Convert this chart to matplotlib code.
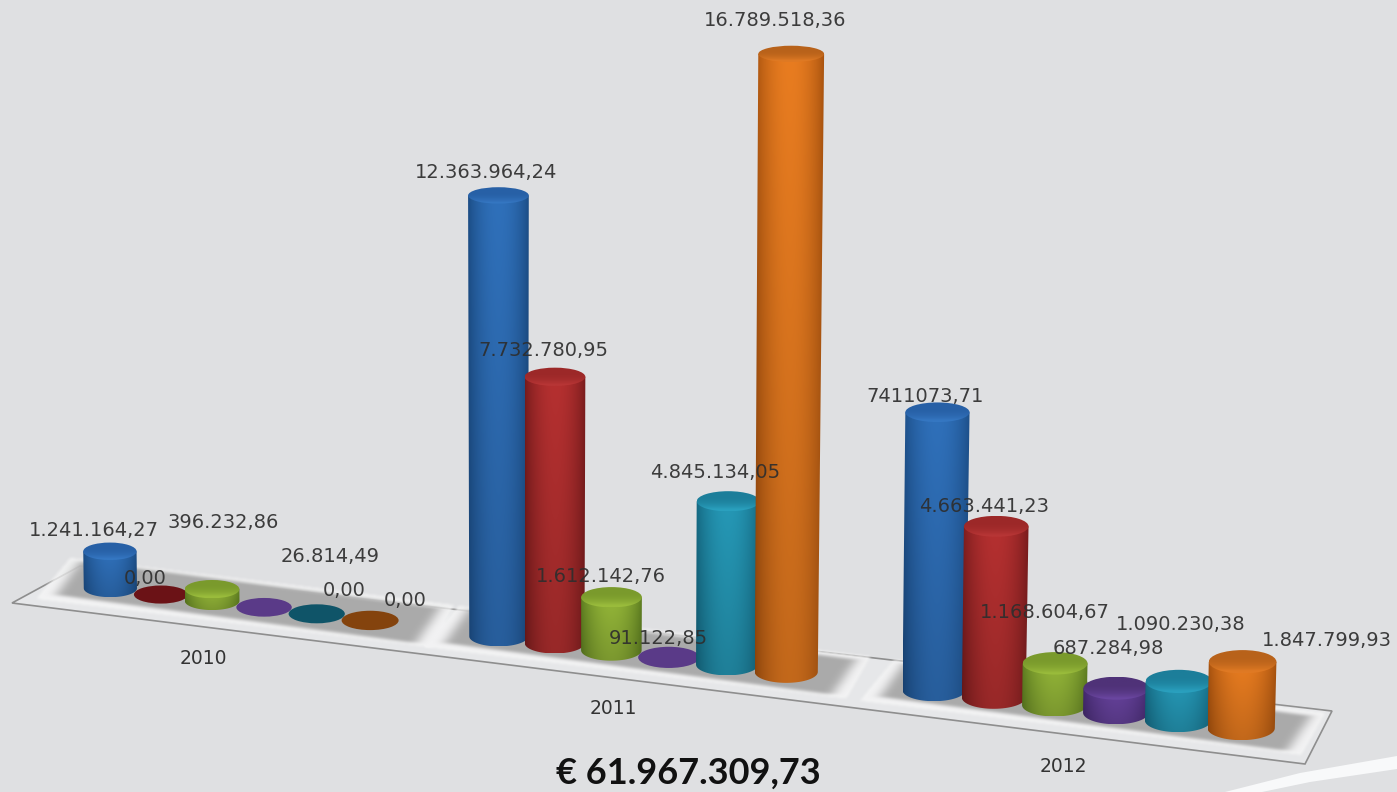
import numpy as np
import matplotlib
matplotlib.use('Agg')
import matplotlib.pyplot as plt
from matplotlib.path import Path
from matplotlib.patches import PathPatch, Ellipse, Polygon
from matplotlib.colors import to_rgb

years = ['2010', '2011', '2012']
values_2010 = [1241164.27, 0.00, 396232.86, 26814.49, 0.00, 0.00]
values_2011 = [12363964.24, 7732780.95, 1612142.76, 91122.85, 4845134.05, 16789518.36]
values_2012 = [7411073.71, 4663441.23, 1168604.67, 687284.98, 1090230.38, 1847799.93]
labels_2010 = ['1.241.164,27', '0,00', '396.232,86', '26.814,49', '0,00', '0,00']
labels_2011 = ['12.363.964,24', '7.732.780,95', '1.612.142,76', '91.122,85', '4.845.134,05', '16.789.518,36']
labels_2012 = ['7411073,71', '4.663.441,23', '1.168.604,67', '687.284,98', '1.090.230,38', '1.847.799,93']
total_label = '€ 61.967.309,73'

# layout, in picture pixels
label_xy = [
    [(94, 531), (145, 578), (223, 522), (330, 557), (344, 590), (405, 600)],
    [(486, 172), (543, 350), (601, 577), (658, 639), (715, 472), (775, 21)],
    [(925, 397), (984, 507), (1045, 613), (1108, 648), (1181, 624), (1327, 641)],
]
year_xy = [(203, 659), (613, 709), (1063, 766)]
group_spread = [1.0, 1.0, 0.965]

# edge, middle, cap, rim, flat
colors = [
    ('#1B4C84', '#2F70BA', '#2760A6', '#3577C2', '#2A62A8'),
    ('#761B1C', '#B53030', '#9C2828', '#B83636', '#6B1216'),
    ('#5C7C20', '#93B538', '#7A9A2C', '#9ABC3C', '#7F9F2E'),
    ('#42286C', '#66429C', '#4F3278', '#6A46A0', '#5A3A88'),
    ('#14667F', '#2598B6', '#1C7E9A', '#2AA0BE', '#0F5468'),
    ('#A4500E', '#E87C20', '#B8621A', '#E07A24', '#84430D'),
]

BG = '#DFE0E2'
R = 1.107
DU = 0.136


def axis_x(u):
    return 238 + 402 * (R ** u - 1) / (R - 1)


def floor_y(x):
    return 588 + 0.1237 * (x - 108)


def bar_height(v, g):
    m = v / 1e6
    return 29.5 * (1 + 0.1 * g) * m * (1 + 0.008 * m)


def squash(y):
    return 0.24 + 0.00016 * y


def blur(a, nx, ny):
    kx = np.ones(nx) / nx
    ky = np.ones(ny) / ny
    for _ in range(3):
        a = np.apply_along_axis(lambda r: np.convolve(r, ky, mode='same'), 0, a)
        a = np.apply_along_axis(lambda r: np.convolve(r, kx, mode='same'), 1, a)
    return a


fig = plt.figure(figsize=(13.97, 7.92), dpi=100, facecolor=BG)
ax = fig.add_axes([0, 0, 1, 1])
ax.set_xlim(0, 1397)
ax.set_ylim(792, 0)
ax.axis('off')
ax.autoscale(False)

# white streak in the corner
ax.add_patch(Polygon([(1225, 792), (1300, 773), (1397, 756), (1397, 769), (1310, 782), (1262, 792)],
                     fc='#F8F9FA', ec='none', zorder=1))

# floor
ax.add_patch(Polygon([(12, 603), (1305, 764), (1332, 711), (80, 566)], closed=True,
                     fc='#E6E7E9', ec='#8E8E8E', lw=1.2, zorder=1))

# shadow bands under each group
gx, gy = np.meshgrid(np.arange(1397) + 0.5, np.arange(792) + 0.5)
pts = np.column_stack([gx.ravel(), gy.ravel()])
halo = np.zeros(gx.shape)
shade = np.zeros(gx.shape)
for g in range(3):
    x0 = axis_x(g - 2.5 * DU * group_spread[g]) - 60
    x1 = axis_x(g + 2.5 * DU * group_spread[g]) + 62
    big = [(x0 + 20, floor_y(x0) - 23), (x1 + 22, floor_y(x1) - 23),
           (x1 - 2, floor_y(x1) + 19), (x0 - 14, floor_y(x0) + 18)]
    small = [(x0 + 30, floor_y(x0) - 20), (x1 + 8, floor_y(x1) - 20),
             (x1 - 16, floor_y(x1) + 15), (x0 + 6, floor_y(x0) + 14)]
    halo += Path(big).contains_points(pts).reshape(gx.shape)
    shade += Path(small).contains_points(pts).reshape(gx.shape)
halo = blur(halo, 3, 3)
shade = blur(shade, 11, 3)
rgba = np.zeros(gx.shape + (4,))
rgba[..., :3] = 0.97
rgba[..., 3] = np.clip(halo * 1.1, 0, 1) * 0.75
ax.imshow(rgba, extent=(0, 1397, 792, 0), aspect='auto', zorder=2, interpolation='bilinear')
rgba = np.zeros(gx.shape + (4,))
rgba[..., :3] = 0.67
rgba[..., 3] = np.clip(shade, 0, 1)
ax.imshow(rgba, extent=(0, 1397, 792, 0), aspect='auto', zorder=2.1, interpolation='bilinear')

# cylinders, left to right
order = 3
for g, vals in enumerate([values_2010, values_2011, values_2012]):
    for s, v in enumerate(vals):
        u = g + (s - 2.5) * DU * group_spread[g]
        xb = axis_x(u)
        yb = floor_y(xb)
        step = (axis_x(u + DU / 2) - axis_x(u - DU / 2)) * group_spread[g]
        rb = step * 0.53
        edge, mid, cap, rim, flat = colors[s]
        ry_b = rb * squash(yb)
        if v < 100000:
            ax.add_patch(Ellipse((xb, yb), 2 * rb, 2 * ry_b, fc=flat, ec='none', zorder=order))
            order += 1
            continue
        h = bar_height(v, g)
        yt = yb - h
        xt = xb + (xb - 520) * h * 3e-5
        rt = rb * (1 + 0.00007 * h)
        ry_t = rt * squash(yt)

        a = np.linspace(0, np.pi, 40)
        outline = [(xt - rt, yt), (xt + rt, yt)]
        outline += [(xb + rb * np.cos(t), yb + ry_b * np.sin(t)) for t in a]
        patch = PathPatch(Path(outline + [(xt - rt, yt)]), fc='none', ec='none', zorder=order)
        ax.add_patch(patch)

        t = np.linspace(0, 1, 80)
        across = np.sin(np.pi * t) ** 0.75
        down = np.linspace(1.0, 0.84, 40)[:, None, None]
        c0 = np.array(to_rgb(edge))
        c1 = np.array(to_rgb(mid))
        img = (c0 + (c1 - c0) * across[:, None])[None, :, :] * down
        left = min(xt - rt, xb - rb)
        right = max(xt + rt, xb + rb)
        im = ax.imshow(np.clip(img, 0, 1), extent=(left, right, yb + ry_b, yt), aspect='auto',
                       zorder=order, interpolation='bilinear')
        im.set_clip_path(patch)

        # cap shaded from back to front
        top = Ellipse((xt, yt), 2 * rt, 2 * ry_t, fc='none', ec='none', zorder=order + 0.1)
        ax.add_patch(top)
        c0 = np.array(to_rgb(cap))
        c1 = np.array(to_rgb(rim))
        ramp = np.clip(np.linspace(-0.4, 1.1, 30), 0, 1) ** 2
        img = (c0 + (c1 - c0) * ramp[:, None])[:, None, :]
        im = ax.imshow(img, extent=(xt - rt, xt + rt, yt + ry_t, yt - ry_t), aspect='auto',
                       zorder=order + 0.1, interpolation='bilinear')
        im.set_clip_path(top)
        order += 1

# value labels
for g, labs in enumerate([labels_2010, labels_2011, labels_2012]):
    for s, lab in enumerate(labs):
        x, y = label_xy[g][s]
        ax.text(x, y, lab, ha='center', va='center', fontsize=14, color='#2E2E2E', alpha=0.92,
                family='DejaVu Sans', zorder=100)

for yr, (x, y) in zip(years, year_xy):
    ax.text(x, y, yr, ha='center', va='center', fontsize=13.5, color='#333333',
            family='DejaVu Sans', zorder=100)

ax.text(688, 773, total_label, ha='center', va='center', fontsize=26, fontweight='bold',
        color='#111111', family='Lato', zorder=100)

fig.savefig('out.png', dpi=100, facecolor=BG)
